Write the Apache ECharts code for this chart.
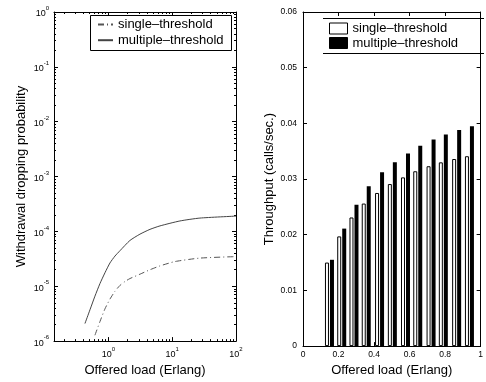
<!DOCTYPE html>
<html><head><meta charset="utf-8">
<script src="https://cdn.jsdelivr.net/npm/echarts@6/dist/echarts.min.js"></script>
<style>html,body{margin:0;padding:0;background:#fff}#c{width:486px;height:382px}</style>
</head><body><div id="c"></div>
<script>
// ---- Left panel: withdrawal dropping probability (log-log) ----
const multiLoad = [0.428, 0.513, 0.614, 0.736, 0.881, 1.056, 1.265, 1.514, 2.17, 3.12, 4.48, 6.43, 13.2, 27.2, 100];
const multiProb = [2.09e-6, 3.72e-6, 6.6e-6, 1.12e-5, 1.76e-5, 2.66e-5, 3.55e-5, 4.44e-5, 6.83e-5, 8.91e-5, 1.09e-4, 1.26e-4, 1.55e-4, 1.75e-4, 1.9e-4];
const singleLoad = [0.614, 0.736, 0.881, 1.056, 1.265, 1.514, 1.815, 2.17, 3.12, 4.48, 6.43, 11.04, 27.2, 100];
const singleProb = [1.28e-6, 2.27e-6, 3.87e-6, 5.83e-6, 8.1e-6, 1.035e-5, 1.22e-5, 1.38e-5, 1.66e-5, 2.0e-5, 2.35e-5, 2.82e-5, 3.26e-5, 3.47e-5];
const logXMajor = [1, 10, 100];
const logYMajor = [1e-6, 1e-5, 1e-4, 1e-3, 1e-2, 1e-1, 1];

// ---- Right panel: throughput bars ----
const barLoads = [0.149, 0.218, 0.287, 0.356, 0.431, 0.503, 0.577, 0.646, 0.721, 0.790, 0.865, 0.937];
const singleThr = [0.0150, 0.0197, 0.0231, 0.0256, 0.0275, 0.0291, 0.0303, 0.0314, 0.0323, 0.0330, 0.0336, 0.0341];
const multiThr  = [0.0155, 0.0211, 0.0254, 0.0287, 0.0312, 0.0330, 0.0346, 0.0360, 0.0371, 0.0380, 0.0388, 0.0395];

const names = {Ls: 'single–threshold', Lm: 'multiple–threshold', Bs: 'single–threshold', Bm: 'multiple–threshold'};

// minor log ticks (2..9 per decade)
function minorTicks(lo, hi) {
  const out = [];
  for (let d = lo; d < hi; d++) for (let k = 2; k <= 9; k++) out.push(k * Math.pow(10, d));
  return out;
}
const xMinor = minorTicks(-1, 2).filter(v => v >= 0.14);
const yMinor = minorTicks(-6, 0);

const FONT = 'Liberation Sans';
const supFmt = v => '{b|10}{s|' + Math.round(Math.log10(v)) + '}';
const supRich = {
  b: {fontSize: 9, fontFamily: FONT, color: '#000', verticalAlign: 'bottom', lineHeight: 13},
  s: {fontSize: 6, fontFamily: FONT, color: '#000', verticalAlign: 'top', lineHeight: 13}
};
const tickStyle = {color: '#000', width: 1};

function logAxis(grid, pos, vals, len, showLine, labels, extra) {
  return Object.assign({
    type: 'log', gridIndex: grid, position: pos, logBase: 10,
    axisLine: {show: showLine, onZero: false, lineStyle: {color: '#000', width: 1}},
    axisTick: {show: true, inside: true, length: len, customValues: vals, lineStyle: tickStyle},
    axisLabel: labels ? {show: true, customValues: vals, formatter: supFmt, rich: supRich, margin: 5} : {show: false},
    splitLine: {show: false}, minorTick: {show: false}
  }, extra);
}
function valAxis(grid, pos, labels, extra) {
  return Object.assign({
    type: 'value', gridIndex: grid, position: pos,
    axisLine: {show: true, onZero: false, lineStyle: {color: '#000', width: 1}},
    axisTick: {show: true, inside: true, length: 4, lineStyle: tickStyle},
    axisLabel: labels ? {show: true, fontSize: 8.5, fontFamily: FONT, color: '#000'} : {show: false},
    splitLine: {show: false}
  }, extra);
}

const xL = {min: 0.14, max: 100};
const yL = {min: 1e-6, max: 1};
const xR = {min: 0, max: 1, interval: 0.2};
const yR = {min: 0, max: 0.06, interval: 0.01};
const titleStyle = {fontSize: 13, fontFamily: FONT, color: '#000'};

const option = {
  animation: false,
  backgroundColor: '#fff',
  textStyle: {fontFamily: FONT},
  grid: [
    {left: 54, top: 12, width: 182, height: 337},
    {left: 303, top: 12, width: 181, height: 337}
  ],
  xAxis: [
    logAxis(0, 'bottom', logXMajor, 4, true, true, Object.assign({name: 'Offered load (Erlang)', nameLocation: 'middle', nameGap: 17, nameTextStyle: titleStyle}, xL)),
    logAxis(0, 'bottom', xMinor, 2, false, false, xL),
    logAxis(0, 'top', logXMajor, 4, true, false, xL),
    logAxis(0, 'top', xMinor, 2, false, false, xL),
    valAxis(1, 'bottom', true, Object.assign({name: 'Offered load (Erlang)', nameLocation: 'middle', nameGap: 17, nameTextStyle: titleStyle,
      axisLabel: {show: true, fontSize: 8.5, fontFamily: FONT, color: '#000', margin: 4}}, xR)),
    valAxis(1, 'top', false, xR)
  ],
  yAxis: [
    logAxis(0, 'left', logYMajor, 4, true, true, Object.assign({name: 'Withdrawal dropping probability', nameLocation: 'middle', nameGap: 26, nameTextStyle: titleStyle}, yL)),
    logAxis(0, 'left', yMinor, 2, false, false, yL),
    logAxis(0, 'right', logYMajor, 4, true, false, yL),
    logAxis(0, 'right', yMinor, 2, false, false, yL),
    valAxis(1, 'left', true, Object.assign({name: 'Throughput (calls/sec.)', nameLocation: 'middle', nameGap: 27, nameTextStyle: titleStyle,
      axisLabel: {show: true, fontSize: 8.5, fontFamily: FONT, color: '#000', margin: 6}}, yR)),
    valAxis(1, 'right', false, yR)
  ],
  legend: [
    {
      left: 97, top: 18, orient: 'vertical', padding: 0, itemGap: 2.7,
      itemWidth: 15, itemHeight: 2,
      itemStyle: {opacity: 0},
      data: ['Ls', 'Lm'], formatter: n => names[n],
      textStyle: {fontSize: 13, fontFamily: FONT, color: '#000'},
      selectedMode: false
    },
    {
      left: 329, top: 22, orient: 'vertical', padding: 0, itemGap: 1.5,
      itemWidth: 18, itemHeight: 11, icon: 'rect',
      data: [
        {name: 'Bs', itemStyle: {color: '#fff', borderColor: '#000', borderWidth: 1}},
        {name: 'Bm', itemStyle: {color: '#000', borderColor: '#000', borderWidth: 1}}
      ],
      formatter: n => names[n],
      textStyle: {fontSize: 13, fontFamily: FONT, color: '#000'},
      selectedMode: false
    }
  ],
  graphic: [
    {type: 'rect', shape: {x: 90.5, y: 15.5, width: 141, height: 35}, style: {fill: 'none', stroke: '#000', lineWidth: 1}, z: 10},
    {type: 'line', shape: {x1: 323, y1: 18.5, x2: 484, y2: 18.5}, style: {stroke: '#000', lineWidth: 1}, z: 10},
    {type: 'line', shape: {x1: 323, y1: 53.5, x2: 484, y2: 53.5}, style: {stroke: '#000', lineWidth: 1}, z: 10}
  ],
  series: [
    {
      name: 'Ls', type: 'line', xAxisIndex: 0, yAxisIndex: 0, symbol: 'none', smooth: 0.2,
      lineStyle: {color: '#555', width: 1, type: [6, 3, 1, 3]}, itemStyle: {color: '#555'},
      data: singleLoad.map((x, i) => [x, singleProb[i]])
    },
    {
      name: 'Lm', type: 'line', xAxisIndex: 0, yAxisIndex: 0, symbol: 'none', smooth: 0.2,
      lineStyle: {color: '#444', width: 1}, itemStyle: {color: '#444'},
      data: multiLoad.map((x, i) => [x, multiProb[i]])
    },
    {
      name: 'Bs', type: 'bar', xAxisIndex: 4, yAxisIndex: 4, barWidth: 4, barGap: '25%',
      itemStyle: {color: '#fff', borderColor: '#000', borderWidth: 1},
      data: barLoads.map((x, i) => [x, singleThr[i]])
    },
    {
      name: 'Bm', type: 'bar', xAxisIndex: 4, yAxisIndex: 4, barWidth: 4, barGap: '25%',
      itemStyle: {color: '#000'},
      data: barLoads.map((x, i) => [x, multiThr[i]])
    }
  ]
};
const chart = echarts.init(document.getElementById('c'), null, {renderer: 'canvas'});
chart.setOption(option);
</script></body></html>
